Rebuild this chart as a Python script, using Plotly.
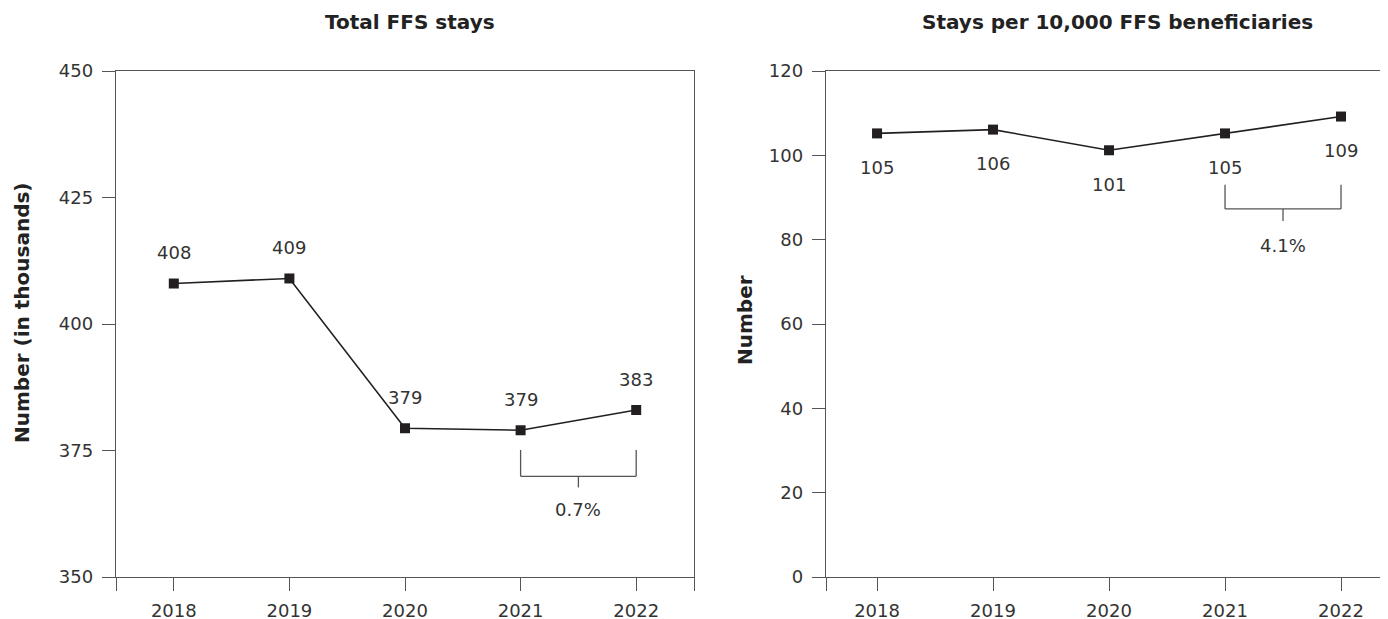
import plotly.graph_objects as go
from plotly.subplots import make_subplots

# 数据
years = ['2018', '2019', '2020', '2021', '2022']
total_stays = [408.0, 409.0, 379.4, 379.0, 383.0]          # 千
total_labels = ['408', '409', '379', '379', '383']
stays_per_10k = [105.2, 106.1, 101.2, 105.2, 109.2]
per_10k_labels = ['105', '106', '101', '105', '109']
left_change = '0.7%'
right_change = '4.1%'

FONT = 'DejaVu Sans'
INK = '#231f20'
AXIS = '#555555'
TXT = '#333333'

W, H = 1388, 619
# 页面 body 有 8px 边距，所有像素位置按此平移
TOP, BOT = 63, 569
PH = BOT - TOP

fig = make_subplots(rows=1, cols=2, horizontal_spacing=0.0)
x = list(range(len(years)))

# 折线 + 方形标记
for col, vals in [(1, total_stays), (2, stays_per_10k)]:
    fig.add_trace(go.Scatter(
        x=x, y=vals, mode='lines+markers',
        line=dict(color=INK, width=1.6),
        marker=dict(symbol='square', size=10, color=INK),
        showlegend=False, hoverinfo='skip'
    ), row=1, col=col)

# 数据标签
for i, (v, t) in enumerate(zip(total_stays, total_labels)):
    fig.add_annotation(x=i, y=v, text=t, showarrow=False, xref='x', yref='y',
                       yshift=31, font=dict(size=18, color=TXT, family=FONT))
for i, (v, t) in enumerate(zip(stays_per_10k, per_10k_labels)):
    fig.add_annotation(x=i, y=v, text=t, showarrow=False, xref='x2', yref='y2',
                       yshift=-34, font=dict(size=18, color=TXT, family=FONT))

# 变化括号
def bracket(xr, yr, x0, x1, top, bot, tick, label_y, text):
    line = dict(color=AXIS, width=1.3)
    mid = (x0 + x1) / 2
    for sx0, sy0, sx1, sy1 in [(x0, top, x0, bot), (x1, top, x1, bot),
                               (x0, bot, x1, bot), (mid, bot, mid, tick)]:
        fig.add_shape(type='line', x0=sx0, y0=sy0, x1=sx1, y1=sy1,
                      xref=xr, yref=yr, line=line)
    fig.add_annotation(x=mid, y=label_y, text=text, showarrow=False, xref=xr, yref=yr,
                       font=dict(size=18, color=TXT, family=FONT))

bracket('x', 'y', 3, 4, 375.1, 369.9, 367.7, 363.4, left_change)
bracket('x2', 'y2', 3, 4, 93.0, 87.3, 84.4, 78.7, right_change)

tick_font = dict(size=18, color=TXT, family=FONT)
axis_common = dict(showline=True, linecolor=AXIS, linewidth=1.4, ticks='outside',
                   ticklen=13, tickcolor=AXIS, tickwidth=1.3, showgrid=False,
                   zeroline=False, tickfont=tick_font)

fig.update_xaxes(axis_common)
fig.update_yaxes(axis_common)
fig.update_xaxes(ticklabelstandoff=4)
fig.update_yaxes(ticklabelstandoff=5)

fig.update_xaxes(domain=[108 / W, 686 / W], range=[-0.5, 4.5], mirror=True,
                 tickvals=[-0.5] + x + [4.5], ticktext=[''] + years + [''],
                 row=1, col=1)
fig.update_yaxes(range=[350, 450], tickvals=[350, 375, 400, 425, 450], mirror=True,
                 row=1, col=1)
fig.update_xaxes(domain=[818 / W, 1380 / W], range=[-0.44, 4.405], mirror=True,
                 tickvals=[-0.44] + x, ticktext=[''] + years,
                 row=1, col=2)
fig.update_yaxes(range=[0, 120], tickvals=[0, 20, 40, 60, 80, 100, 120],
                 row=1, col=2)

# 标题
title_y = 1 + (TOP - 14) / PH
for xp, text in [(402 / W, 'Total FFS stays'),
                 (1109 / W, 'Stays per 10,000 FFS beneficiaries')]:
    fig.add_annotation(x=xp, y=title_y, xref='paper', yref='paper',
                       text='<b>%s</b>' % text, showarrow=False,
                       xanchor='center', yanchor='middle',
                       font=dict(size=20, color='#222222', family=FONT))

for xp, yp, text in [(14 / W, (BOT - 305) / PH, 'Number (in thousands)'),
                     (737 / W, (BOT - 312) / PH, 'Number')]:
    fig.add_annotation(x=xp, y=yp, xref='paper', yref='paper', text='<b>%s</b>' % text,
                       showarrow=False, textangle=-90,
                       xanchor='center', yanchor='middle',
                       font=dict(size=20, color='#222222', family=FONT))

fig.update_layout(
    width=W, height=H,
    margin=dict(l=0, r=0, t=TOP, b=H - BOT),
    plot_bgcolor='white', paper_bgcolor='white',
    font=dict(family=FONT)
)

fig.write_html('out.html')
